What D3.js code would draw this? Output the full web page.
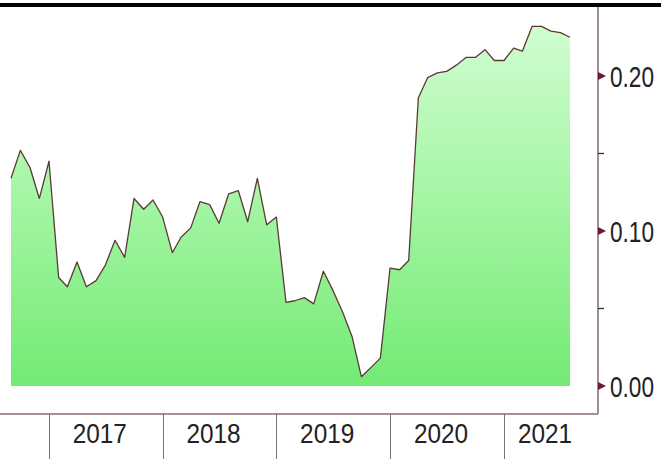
<!DOCTYPE html>
<html>
<head>
<meta charset="UTF-8">
<style>
body { margin: 0; background: #fff; }
svg { display: block; }
.axis text { font-family: "Liberation Sans", Arial, sans-serif; fill: #222; }
</style>
</head>
<body>
<svg class="chart"></svg>
<script src="https://d3js.org/d3.v7.min.js"></script>
<script>

// monthly values, Sep 2016 .. Aug 2021
var months = d3.timeMonths(new Date(2016, 8, 1), new Date(2021, 8, 2));
var values = [
  0.134, 0.152, 0.141, 0.121, 0.145, 0.070, 0.064, 0.080, 0.064, 0.068, 0.078, 0.094,
  0.083, 0.121, 0.114, 0.120, 0.109, 0.086, 0.096, 0.102, 0.119, 0.117, 0.105, 0.124,
  0.126, 0.106, 0.134, 0.104, 0.109, 0.054, 0.055, 0.057, 0.053, 0.074, 0.062, 0.048,
  0.032, 0.006, 0.012, 0.018, 0.076, 0.075, 0.081, 0.186, 0.199, 0.202, 0.203, 0.207,
  0.212, 0.212, 0.217, 0.210, 0.210, 0.218, 0.216, 0.232, 0.232, 0.229, 0.228, 0.225
];
var yearTicks = [2017, 2018, 2019, 2020, 2021];
var yTicks = [0.00, 0.10, 0.20];
var yMinor = [0.05, 0.15];

var width = 661, height = 459;
var axisX = 598, axisY = 414;

var svg = d3.select(".chart")
    .attr("width", width)
    .attr("height", height);

var x = d3.scaleTime()
    .domain([new Date(2017, 0, 1), new Date(2021, 0, 1)])
    .range([49, 504]);

var y = d3.scaleLinear()
    .domain([0, 0.2])
    .range([386, 76]);

var data = months.map(function(d, i) { return {date: d, value: values[i]}; })
    .filter(function(d) { return d.value != null; });

// gradient fill for the area
var grad = svg.append("defs").append("linearGradient")
    .attr("id", "fillGrad")
    .attr("gradientUnits", "userSpaceOnUse")
    .attr("x1", 0).attr("y1", 20)
    .attr("x2", 0).attr("y2", 386);
grad.append("stop").attr("offset", "0%").attr("stop-color", "#d2fdd2");
grad.append("stop").attr("offset", "45%").attr("stop-color", "#a8f6a8");
grad.append("stop").attr("offset", "100%").attr("stop-color", "#74ea74");

var areaGen = d3.area()
    .x(function(d) { return x(d.date); })
    .y0(function() { return y(0); })
    .y1(function(d) { return y(d.value); });

var lineGen = d3.line()
    .x(function(d) { return x(d.date); })
    .y(function(d) { return y(d.value); });

svg.append("path")
    .attr("d", areaGen(data))
    .attr("fill", "url(#fillGrad)");

svg.append("path")
    .attr("d", lineGen(data))
    .attr("fill", "none")
    .attr("stroke", "#5a3a34")
    .attr("stroke-width", 1.3)
    .attr("stroke-linejoin", "round");

// top black rule
svg.append("rect")
    .attr("x", 0).attr("y", 3)
    .attr("width", width).attr("height", 4)
    .attr("fill", "#000");

// right axis line
svg.append("line")
    .attr("x1", axisX).attr("x2", axisX)
    .attr("y1", 7).attr("y2", axisY)
    .attr("stroke", "#6e5256").attr("stroke-width", 1.3);

// bottom axis line
svg.append("line")
    .attr("x1", 0).attr("x2", axisX)
    .attr("y1", axisY).attr("y2", axisY)
    .attr("stroke", "#8a6a70").attr("stroke-width", 1.3);

// year separators + labels
var xAxis = svg.append("g").attr("class", "axis");
var yearDates = yearTicks.map(function(t) { return new Date(t, 0, 1); });

xAxis.selectAll("line.sep")
    .data(yearDates)
    .enter().append("line")
    .attr("class", "sep")
    .attr("x1", function(d) { return Math.round(x(d)) + 0.5; })
    .attr("x2", function(d) { return Math.round(x(d)) + 0.5; })
    .attr("y1", axisY).attr("y2", height)
    .attr("stroke", "#777").attr("stroke-width", 1);

xAxis.selectAll("text")
    .data(yearTicks)
    .enter().append("text")
    .attr("transform", function(t) {
      var a = x(new Date(t, 0, 1)), b = Math.min(x(new Date(t + 1, 0, 1)), axisX);
      return "translate(" + ((a + b) / 2 - 6) + ",443) scale(0.87,1)";
    })
    .attr("text-anchor", "middle")
    .attr("font-size", 28)
    .text(function(t) { return t; });

// right value axis
var yAxis = svg.append("g").attr("class", "axis");

yAxis.selectAll("path.arrow")
    .data(yTicks)
    .enter().append("path")
    .attr("class", "arrow")
    .attr("d", function(d) {
      var ty = y(d);
      return "M" + axisX + "," + (ty - 4) + "L" + (axisX + 8) + "," + ty + "L" + axisX + "," + (ty + 4) + "Z";
    })
    .attr("fill", "#6d1836");

yAxis.selectAll("line.minor")
    .data(yMinor)
    .enter().append("line")
    .attr("class", "minor")
    .attr("x1", axisX).attr("x2", axisX + 6)
    .attr("y1", function(d) { return y(d); })
    .attr("y2", function(d) { return y(d); })
    .attr("stroke", "#333").attr("stroke-width", 1.3);

yAxis.selectAll("text")
    .data(yTicks)
    .enter().append("text")
    .attr("transform", function(d) { return "translate(610," + (y(d) + 11) + ") scale(0.78,1)"; })
    .attr("font-size", 29)
    .text(function(d) { return d3.format(".2f")(d); });

</script>
</body>
</html>
